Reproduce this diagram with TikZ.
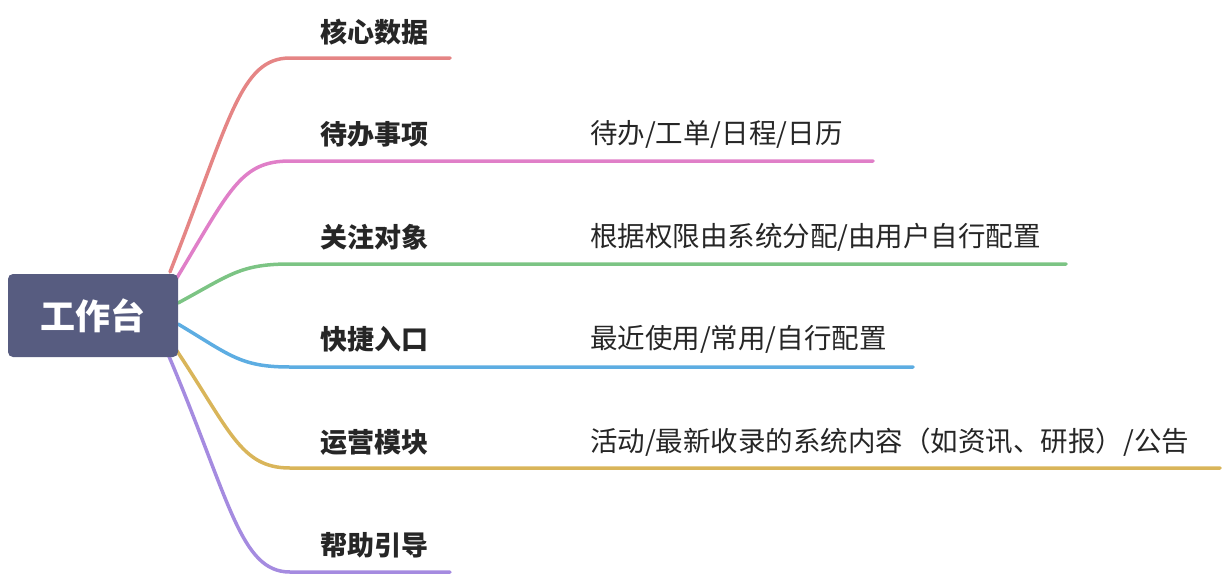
\documentclass[tikz,border=0pt]{standalone}
\usepackage{fontspec}
\setmainfont{Noto Sans CJK SC}
\begin{document}
\begin{tikzpicture}[x=1pt,y=-1pt,
  br/.style={line width=3.5pt,line cap=round},
  lab/.style={anchor=west,font=\fontsize{27}{30}\selectfont\bfseries,text=black!85,inner sep=0},
  sub/.style={anchor=west,font=\fontsize{27.5}{30}\selectfont,text=black!85,inner sep=0}]
\definecolor{cR}{HTML}{E58585}\definecolor{cP}{HTML}{E07FC8}\definecolor{cG}{HTML}{7CC484}
\definecolor{cB}{HTML}{5DADE2}\definecolor{cY}{HTML}{D9B55A}\definecolor{cV}{HTML}{A58BE0}
\useasboundingbox (0,0) rectangle (1228,576);
\coordinate (s1) at (170,272);\coordinate (s2) at (175,281);\coordinate (s3) at (178,303);
\coordinate (s4) at (178,324);\coordinate (s5) at (173,345);\coordinate (s6) at (168,354);
\coordinate (a1) at (290,58);\coordinate (e1) at (450,58);
\coordinate (a2) at (290,161);\coordinate (e2) at (873,161);
\coordinate (a3) at (290,264);\coordinate (e3) at (1066,264);
\coordinate (a4) at (290,367);\coordinate (e4) at (913,367);
\coordinate (a5) at (290,468);\coordinate (e5) at (1220,468);
\coordinate (a6) at (290,572);\coordinate (e6) at (450,572);
\draw[br,cR] (s1) .. controls (230,120) and (240,58) .. (a1) -- (e1);
\draw[br,cP] (s2) .. controls (230,190) and (240,161) .. (a2) -- (e2);
\draw[br,cG] (s3) .. controls (230,275) and (240,264) .. (a3) -- (e3);
\draw[br,cB] (s4) .. controls (230,355) and (240,367) .. (a4) -- (e4);
\draw[br,cY] (s5) .. controls (230,430) and (240,468) .. (a5) -- (e5);
\draw[br,cV] (s6) .. controls (230,500) and (240,572) .. (a6) -- (e6);
\node[fill={rgb,255:red,87;green,92;blue,128},rounded corners=5pt,minimum width=170pt,minimum height=83pt,
  text=white,font=\fontsize{35}{38}\selectfont\bfseries] (root) at (93,315.5) {工作台};
\node[lab] (l1) at (320,32) {核心数据};
\node[lab] (l2) at (320,134) {待办事项};
\node[lab] (l3) at (320,237) {关注对象};
\node[lab] (l4) at (320,339) {快捷入口};
\node[lab] (l5) at (320,442) {运营模块};
\node[lab] (l6) at (320,545) {帮助引导};
\node[sub] (t2) at (590,134) {待办/工单/日程/日历};
\node[sub] (t3) at (590,237) {根据权限由系统分配/由用户自行配置};
\node[sub] (t4) at (590,339) {最近使用/常用/自行配置};
\node[sub] (t5) at (590,442) {活动/最新收录的系统内容（如资讯、研报）/公告};
\end{tikzpicture}
\end{document}
